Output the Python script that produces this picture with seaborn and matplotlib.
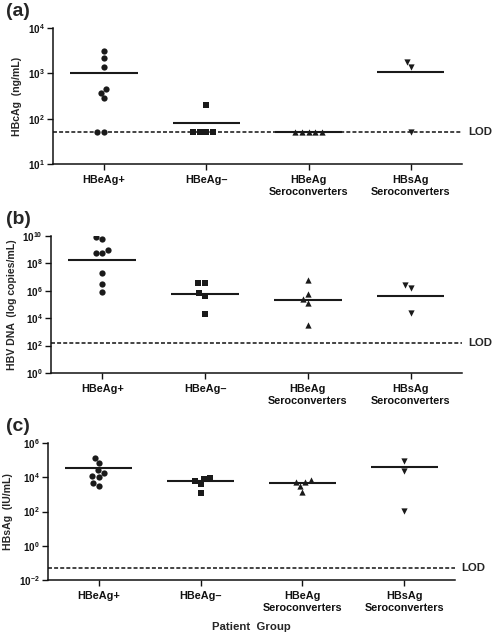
import numpy as np
import pandas as pd
import matplotlib
matplotlib.use("Agg")
import matplotlib.pyplot as plt
import matplotlib.ticker as mticker
import seaborn as sns

# categories and markers
groups = ["HBeAg+", "HBeAg\u2013", "HBeAg\nSeroconverters", "HBsAg\nSeroconverters"]
markers = ["o", "s", "^", "v"]

# (a) HBcAg, ng/mL
hbcag_pos = [3100, 2200, 1350, 450, 370, 280, 50, 50]
hbcag_neg = [200, 50, 50, 50, 50]
hbcag_esc = [50, 50, 50, 50, 50]
hbcag_ssc = [1800, 1400, 50]
hbcag_lines = [1000, 80, 50, 1080]
hbcag_lod = 50

# (b) HBV DNA, copies/mL
dna_pos = [8.9e9, 6e9, 1e9, 6e8, 6e8, 2e7, 3e6, 8.5e5]
dna_neg = [3.9e6, 3.9e6, 7e5, 4.5e5, 1.9e4]
dna_esc = [6e6, 5.7e5, 2.5e5, 1.3e5, 3.1e3]
dna_ssc = [2.6e6, 1.5e6, 2.2e4]
dna_lines = [1.7e8, 6.3e5, 2.3e5, 4.1e5]
dna_lod = 165

# (c) HBsAg, IU/mL
sag_pos = [1.3e5, 6.5e4, 2.6e4, 1.7e4, 1.15e4, 1e4, 4.9e3, 3.1e3]
sag_neg = [8.8e3, 8e3, 5.9e3, 3.8e3, 1.2e3]
sag_esc = [6.9e3, 5.5e3, 5.5e3, 2.9e3, 1.3e3]
sag_ssc = [9.3e4, 2.4e4, 110]
sag_lines = [3.5e4, 5.9e3, 4.5e3, 3.8e4]
sag_lod = 0.05

sns.set_style("ticks")
plt.rcParams["font.family"] = ["Liberation Sans", "DejaVu Sans"]
plt.rcParams["font.weight"] = "bold"
plt.rcParams["axes.labelweight"] = "bold"
plt.rcParams["mathtext.fontset"] = "custom"
plt.rcParams["mathtext.rm"] = "Liberation Sans:bold"
plt.rcParams["mathtext.bf"] = "Liberation Sans:bold"
plt.rcParams["mathtext.it"] = "Liberation Sans:bold"

fig = plt.figure(figsize=(4.99, 6.39), dpi=100)

panels = [
    ("(a)", [0.106, 0.7433, 0.8196, 0.2128], [hbcag_pos, hbcag_neg, hbcag_esc, hbcag_ssc],
     hbcag_lines, hbcag_lod, (10, 1e4), [1e1, 1e2, 1e3, 1e4], "HBcAg  (ng/mL)"),
    ("(b)", [0.102, 0.4163, 0.8236, 0.2144], [dna_pos, dna_neg, dna_esc, dna_ssc],
     dna_lines, dna_lod, (1, 1e10), [1e0, 1e2, 1e4, 1e6, 1e8, 1e10], "HBV DNA  (log copies/mL)"),
    ("(c)", [0.0962, 0.0923, 0.8156, 0.2144], [sag_pos, sag_neg, sag_esc, sag_ssc],
     sag_lines, sag_lod, (1e-2, 1e6), [1e-2, 1e0, 1e2, 1e4, 1e6], "HBsAg  (IU/mL)"),
]


def log_label(v, pos):
    return r"$\mathbf{10^{%d}}$" % int(round(np.log10(v)))


for letter, rect, vals, means, lod, ylim, yticks, ylabel in panels:
    ax = fig.add_axes(rect)
    for i, v in enumerate(vals):
        df = pd.DataFrame({"group": groups[i], "value": v})
        sns.swarmplot(data=df, x="group", y="value", order=groups, marker=markers[i],
                      color="#1a1a1a", size=4.5, log_scale=True, ax=ax, zorder=4)
        ax.hlines(means[i], i - 0.33, i + 0.33, color="#1a1a1a", lw=1.5, zorder=3)

    ax.axhline(lod, color="#111111", lw=1.1, ls=(0, (2.6, 1.4)), zorder=1)
    ax.text(1.016, lod, "LOD", transform=ax.get_yaxis_transform(), va="center",
            ha="left", fontsize=8.2, fontweight="bold")

    ax.set_ylim(*ylim)
    ax.set_xlim(-0.5, 3.5)
    ax.set_yticks(yticks)
    ax.yaxis.set_minor_locator(mticker.NullLocator())
    ax.yaxis.set_major_formatter(mticker.FuncFormatter(log_label))
    ax.tick_params(axis="both", length=4, width=1, direction="out", colors="#111111")
    ax.tick_params(axis="y", labelsize=7.1, pad=2)
    ax.tick_params(axis="x", labelsize=7.8, pad=4)
    ax.set_ylabel(ylabel, fontsize=7.6, fontweight="bold", labelpad=4)
    ax.set_xlabel("")
    for s in ["left", "bottom"]:
        ax.spines[s].set_linewidth(1.1)
        ax.spines[s].set_color("#111111")
    sns.despine(ax=ax)
    fig.text(6 / 499, ax.get_position().y1 + 8 / 639, letter, fontsize=14,
             fontweight="bold", ha="left", va="bottom")

ax.set_xlabel("Patient  Group", fontsize=8.2, fontweight="bold", labelpad=7)

fig.savefig("out.png", dpi=100)
